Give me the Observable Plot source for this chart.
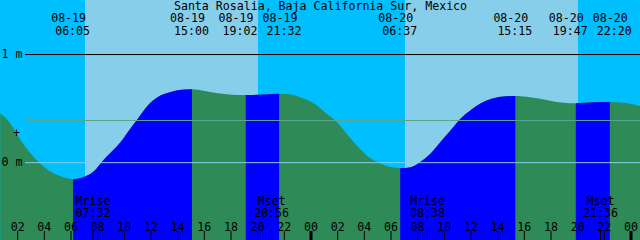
<!DOCTYPE html>
<html><head><meta charset="utf-8">
<script src="https://cdn.jsdelivr.net/npm/d3@7"></script>
<script src="https://cdn.jsdelivr.net/npm/@observablehq/plot@0.6"></script>
<style>html,body{margin:0;padding:0;background:#fff;} #chart svg{display:block}</style>
</head><body><div id="chart"></div>
<script>
const title = "Santa Rosalia, Baja California Sur, Mexico";

// tide extremes
const eventTimes = ["08-19 06:05","08-19 15:00","08-19 19:02","08-19 21:32","08-20 06:37","08-20 15:15","08-20 19:47","08-20 22:20"];
const eventKinds = ["low","high","low","high","low","high","low","high"];

// tide level samples (metres)
const tideTimes = [
  "08-19 00:37","08-19 01:22","08-19 01:49","08-19 02:29","08-19 03:06","08-19 03:52","08-19 04:37","08-19 05:22",
  "08-19 06:05","08-19 06:51","08-19 07:37","08-19 08:22","08-19 09:07","08-19 09:52","08-19 10:13","08-19 10:58",
  "08-19 11:43","08-19 12:28","08-19 13:28","08-19 14:12","08-19 15:00","08-19 15:58","08-19 16:58","08-19 17:58",
  "08-19 19:02","08-19 19:58","08-19 21:32","08-19 22:18","08-19 23:19","08-20 00:19","08-20 01:04","08-20 01:49",
  "08-20 02:34","08-20 03:19","08-20 04:04","08-20 04:49","08-20 05:34","08-20 06:37","08-20 07:25","08-20 08:10",
  "08-20 08:55","08-20 09:40","08-20 10:25","08-20 11:10","08-20 11:55","08-20 12:40","08-20 13:25","08-20 14:10",
  "08-20 15:15","08-20 16:22","08-20 17:52","08-20 18:52","08-20 19:47","08-20 21:06","08-20 22:20","08-20 23:21",
  "08-21 00:37"
];
const tideLevels = [
  0.452, 0.360, 0.268, 0.144, 0.052, -0.041, -0.102, -0.139,
  -0.157, -0.139, -0.087, 0.021, 0.114, 0.222, 0.283, 0.406,
  0.529, 0.606, 0.652, 0.670, 0.674, 0.658, 0.637, 0.624,
  0.621, 0.624, 0.633, 0.628, 0.591, 0.529, 0.452, 0.375,
  0.268, 0.160, 0.067, 0.006, -0.034, -0.055, -0.046, 0.006,
  0.083, 0.190, 0.298, 0.406, 0.483, 0.545, 0.584, 0.606,
  0.612, 0.600, 0.569, 0.550, 0.545, 0.554, 0.557, 0.550,
  0.520
];

// sun
const sunriseTimes = ["08-19 06:59","08-20 06:59"];
const sunsetTimes = ["08-19 19:58","08-20 19:58"];

// moon
const moonTimes = ["08-19 07:32","08-19 20:56","08-20 08:38","08-20 21:36"];
const moonLabels = ["Mrise","Mset","Mrise","Mset"];

// axes
const hourTicks = [2,4,6,8,10,12,14,16,18,20,22,24,26,28,30,32,34,36,38,40,42,44,46,48];
const hourLabels = ["02","04","06","08","10","12","14","16","18","20","22","00","02","04","06","08","10","12","14","16","18","20","22","00"];
const levelTicks = [0, 1];
const levelLabels = ["0 m", "1 m"];
const meanLevel = 0.39;
const markLevel = 0.27;
const viewStart = "08-19 00:36";
const viewEnd = "08-21 00:36";
const levelMin = -0.72, levelMax = 1.50;

const W = 640, H = 240;
const parseT = s => {
  const [md, hm] = s.split(" ");
  const day = +md.split("-")[1] - 19;
  const [Hh, M] = hm.split(":").map(Number);
  return day * 24 + Hh + M / 60;
};

const t0 = parseT(viewStart), t1 = parseT(viewEnd);
const pxPerHour = W / (t1 - t0);
const tide = tideTimes.map((s, i) => ({t: parseT(s), level: tideLevels[i]}));
const ev = eventTimes.map((s, i) => ({t: parseT(s), kind: eventKinds[i], date: s.split(" ")[0], time: s.split(" ")[1]}));

// label layout: keep neighbouring event labels from colliding
const minGapHours = 44 / pxPerHour;
const labelShift = -5 / pxPerHour;
ev.forEach(e => e.lt = e.t + labelShift);
for (let i = 0; i + 1 < ev.length; i++) {
  const gap = ev[i + 1].lt - ev[i].lt;
  if (gap < minGapHours) {
    const push = (minGapHours - gap) / 2;
    ev[i].lt -= push;
    ev[i + 1].lt += push;
  }
}
ev.forEach(e => e.tt = e.lt + 4 / pxPerHour);

const rising = [];
ev.forEach((e, i) => {
  if (e.kind === "low" && ev[i + 1]) {
    tide.filter(d => d.t >= e.t - 1e-9 && d.t <= ev[i + 1].t + 1e-9).forEach(d => rising.push({...d, seg: i}));
  }
});

const sr = sunriseTimes.map(parseT), ss = sunsetTimes.map(parseT);
const sky = [
  {a: t0, b: sr[0], color: "#00BFFF"},
  {a: sr[0], b: ss[0], color: "#87CEEB"},
  {a: ss[0], b: sr[1], color: "#00BFFF"},
  {a: sr[1], b: ss[1], color: "#87CEEB"},
  {a: ss[1], b: t1, color: "#00BFFF"}
];
const moon = moonTimes.map((s, i) => ({t: parseT(s), label: moonLabels[i], time: s.split(" ")[1]}));

const chart = Plot.plot({
  width: W, height: H, margin: 0,
  x: {domain: [t0, t1], axis: null},
  y: {domain: [levelMin, levelMax], axis: null},
  color: {type: "identity"},
  style: {fontFamily: "'DejaVu Sans Mono', monospace", fontSize: "11.6px", background: "#00BFFF", color: "black"},
  marks: [
    Plot.rect(sky, {x1: "a", x2: "b", fill: "color", shapeRendering: "crispEdges"}),
    Plot.areaY(tide, {x: "t", y: "level", y1: levelMin, fill: "#2E8B57", curve: "monotone-x"}),
    Plot.areaY(rising, {x: "t", y: "level", y1: levelMin, z: "seg", fill: "#0000FF", curve: "monotone-x"}),
    Plot.ruleY([0], {stroke: "#87CEEB", insetLeft: 25}),
    Plot.ruleY([meanLevel], {stroke: "#5AA68C", insetLeft: 25}),
    Plot.ruleY([1], {stroke: "black", insetLeft: 25}),
    Plot.text(levelTicks, {y: d => d, text: (d, i) => levelLabels[i], frameAnchor: "left", textAnchor: "start", lineAnchor: "middle", dx: 1}),
    Plot.text([markLevel], {y: d => d, text: () => "+", frameAnchor: "left", textAnchor: "middle", lineAnchor: "middle", dx: 16}),
    Plot.text([title], {text: d => d, frameAnchor: "top", lineAnchor: "middle", dy: 5.5}),
    Plot.text(ev, {x: "lt", text: "date", frameAnchor: "top", lineAnchor: "middle", dy: 17.5}),
    Plot.text(ev, {x: "tt", text: "time", frameAnchor: "top", lineAnchor: "middle", dy: 30.5}),
    Plot.text(moon, {x: "t", text: "label", frameAnchor: "bottom", lineAnchor: "middle", dy: -39}),
    Plot.text(moon, {x: "t", text: "time", frameAnchor: "bottom", lineAnchor: "middle", dy: -27}),
    Plot.text(hourTicks, {x: d => d, text: (d, i) => hourLabels[i], frameAnchor: "bottom", lineAnchor: "middle", dy: -13.5, dx: -1.5}),
    Plot.ruleX(hourTicks.filter(d => d % 24 !== 0), {x: d => d, insetTop: 231, dx: -1.5, stroke: "black"}),
    Plot.ruleX(hourTicks.filter(d => d % 24 === 0), {x: d => d, insetTop: 231, dx: -1.5, stroke: "black", strokeWidth: 3}),
    Plot.ruleX(moon, {x: "t", insetTop: 231, stroke: "black"})
  ]
});
document.getElementById("chart").appendChild(chart);
</script>
</body></html>
